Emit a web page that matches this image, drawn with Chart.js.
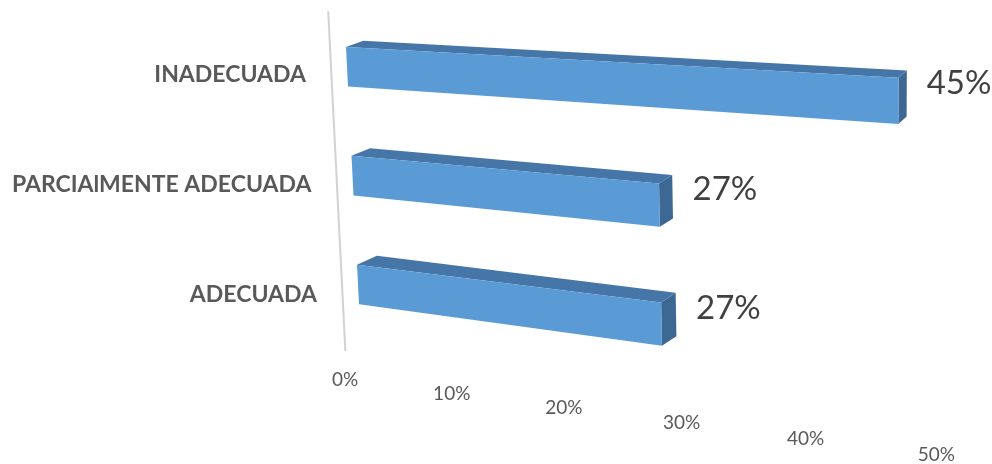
<!DOCTYPE html>
<html lang="es">
<head>
  <meta charset="UTF-8" />
  <title>Gráfico de adecuación</title>
  <script src="https://cdn.jsdelivr.net/npm/chart.js"></script>
  <style>
    html, body { margin: 0; padding: 0; background: #fff; }
    .wrap { width: 992px; height: 464px; }
  </style>
</head>
<body>
  <div class="wrap"><canvas id="grafico" width="992" height="464"></canvas></div>

  <script>
    // datos
    const categorias = ["INADECUADA", "PARCIAlMENTE ADECUADA", "ADECUADA"];
    const porcentajes = [45, 27, 27];
    const ticksX = [0, 10, 20, 30, 40, 50];

    // vista en perspectiva (solo estilo)
    const vistaBarras = { x0: 346, wRef: 55, inclinacion: 0.05, escY: 0.99, despY: -7.5, a: 472, d: 22, g: -0.158 };
    const vistaPiso = { x0: 345, y0: 380, a: 480, d: 21, g: -0.119 };
    const colores = { frente: "#5b9bd5", arriba: "#4676a7", lado: "#3c6893", eje: "#d2d2d2" };

    // punto del plano de barras: t = fracción del eje x, w = y plano
    function proyectar(t, w) {
      const v = vistaBarras;
      const X0 = v.x0 + v.inclinacion * (w - v.wRef) * (1 - 1.2 * t);
      const Y0 = v.escY * w + v.despY;
      const den = 1 + v.g * t;
      return { x: (v.a * t + X0) / den, y: (v.d * t + Y0) / den };
    }

    // profundidad de la caja
    function fondo(p, t, w) {
      return {
        x: p.x + 17 + 0.012 * (w - 55) - 10 * t,
        y: p.y - 6 - 0.012 * (w - 55) - 1.3 * t
      };
    }

    function poligono(ctx, pts, color) {
      ctx.beginPath();
      ctx.moveTo(pts[0].x, pts[0].y);
      for (let i = 1; i < pts.length; i++) ctx.lineTo(pts[i].x, pts[i].y);
      ctx.closePath();
      ctx.fillStyle = color;
      ctx.fill();
    }

    const barras3D = {
      id: "barras3D",
      beforeDatasetsDraw(chart) {
        const ctx = chart.ctx;
        const xs = chart.scales.x;
        const ys = chart.scales.y;

        // eje vertical inclinado
        const a = proyectar(0, ys.top - 1);
        const b = proyectar(0, ys.bottom + 12);
        ctx.save();
        ctx.strokeStyle = colores.eje;
        ctx.lineWidth = 2;
        ctx.beginPath();
        ctx.moveTo(a.x - 16, a.y);
        ctx.lineTo(b.x - 16, b.y);
        ctx.stroke();

        const meta = chart.getDatasetMeta(0);
        meta.data.forEach((bar) => {
          const tb = (bar.base - xs.left) / xs.width;
          const te = (bar.x - xs.left) / xs.width;
          const wT = bar.y - bar.height / 2;
          const wB = bar.y + bar.height / 2;

          const p1 = proyectar(tb, wT), p2 = proyectar(te, wT);
          const p3 = proyectar(te, wB), p4 = proyectar(tb, wB);
          const q1 = fondo(p1, tb, bar.y), q2 = fondo(p2, te, bar.y), q3 = fondo(p3, te, bar.y);

          poligono(ctx, [p1, p2, q2, q1], colores.arriba);
          poligono(ctx, [p2, q2, q3, p3], colores.lado);
          poligono(ctx, [p1, p2, p3, p4], colores.frente);
        });
        ctx.restore();
        return false;
      },
      afterDraw(chart) {
        const ctx = chart.ctx;
        const xs = chart.scales.x;
        const ys = chart.scales.y;
        const meta = chart.getDatasetMeta(0);
        ctx.save();

        // categorías
        ctx.font = "bold 23px Lato";
        ctx.fillStyle = "#595959";
        ctx.textAlign = "right";
        ctx.textBaseline = "middle";
        categorias.forEach((c, i) => {
          const w = ys.getPixelForValue(i);
          const p = proyectar(0, w);
          ctx.fillText(c, p.x - 41, w);
        });

        // etiquetas de datos
        ctx.font = "33px Lato";
        ctx.fillStyle = "#404040";
        ctx.textAlign = "left";
        meta.data.forEach((bar, i) => {
          const te = (bar.x - xs.left) / xs.width;
          const wT = bar.y - bar.height / 2;
          const p = proyectar(te, wT);
          const q = fondo(proyectar(te, bar.y), te, bar.y);
          ctx.fillText(porcentajes[i] + "%", q.x + 20, p.y + 6);
        });

        // ticks del eje x escalonados
        ctx.font = "19px Lato";
        ctx.fillStyle = "#595959";
        ctx.textAlign = "center";
        const v = vistaPiso;
        ticksX.forEach((val) => {
          const t = (xs.getPixelForValue(val) - xs.left) / xs.width;
          const den = 1 + v.g * t;
          ctx.fillText(val + "%", (v.a * t + v.x0) / den, (v.d * t + v.y0) / den);
        });
        ctx.restore();
      }
    };

    new Chart(document.getElementById("grafico"), {
      type: "bar",
      data: {
        labels: categorias,
        datasets: [{
          data: porcentajes,
          backgroundColor: colores.frente,
          barThickness: 40
        }]
      },
      options: {
        indexAxis: "y",
        responsive: false,
        animation: false,
        layout: { padding: { top: 20, bottom: 114, left: 346, right: 46 } },
        plugins: { legend: { display: false }, tooltip: { enabled: false } },
        scales: {
          x: { display: false, min: 0, max: 50 },
          y: { display: false }
        }
      },
      plugins: [barras3D]
    });
  </script>
</body>
</html>
